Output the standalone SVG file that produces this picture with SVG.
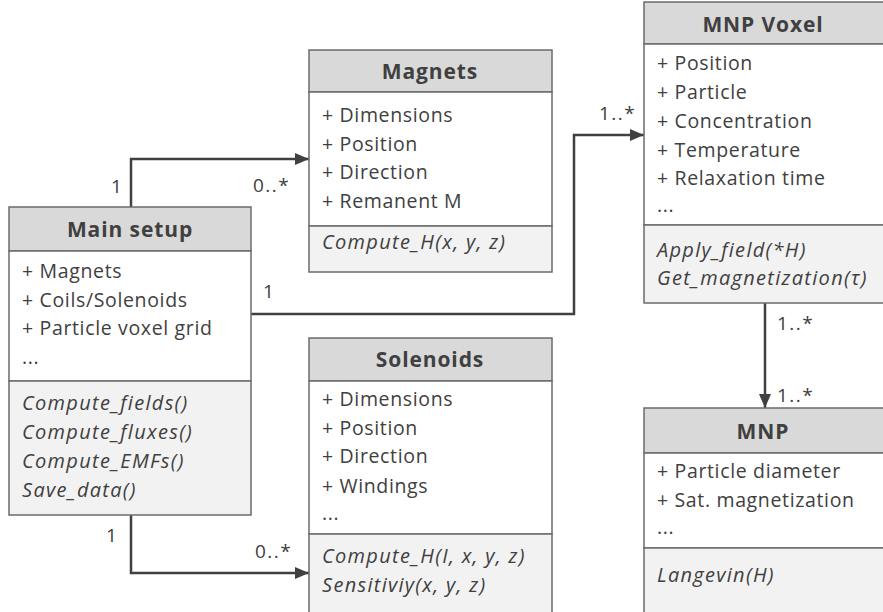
<svg xmlns="http://www.w3.org/2000/svg" width="883" height="612" viewBox="0 0 883 612">
<defs>
<marker id="arr" viewBox="0 0 14 12" refX="14" refY="6" markerWidth="14" markerHeight="12" markerUnits="userSpaceOnUse" orient="auto">
<path d="M0,0 L14,6 L0,12 Z" fill="#404040"/>
</marker>
<style>
.box{stroke:#6b6b6b;stroke-width:1.5}
.hd{fill:#d9d9d9}
.at{fill:#ffffff}
.me{fill:#f2f2f2}
text{font-family:"Open Sans","Liberation Sans",sans-serif;fill:#404040}
.t{font-size:21px;font-weight:bold;text-anchor:middle;letter-spacing:0.9px}
.a{font-size:19.5px;letter-spacing:0.65px}
.m{font-size:20px;font-style:italic;letter-spacing:1.3px}
.l{font-size:19px;letter-spacing:1.5px}
.c{fill:none;stroke:#404040;stroke-width:2.5}
</style>
</defs>
<rect width="883" height="612" fill="#ffffff"/>

<g id="connectors">
<polyline class="c" points="131,207 131,159 309,159" marker-end="url(#arr)"/>
<polyline class="c" points="251,314 574,314 574,135 644,135" marker-end="url(#arr)"/>
<polyline class="c" points="131,515 131,573 309,573" marker-end="url(#arr)"/>
<polyline class="c" points="765,303 765,408" marker-end="url(#arr)"/>
<text class="l" x="111" y="193">1</text>
<text class="l" x="253" y="192">0..*</text>
<text class="l" x="263" y="298">1</text>
<text class="l" x="599" y="120">1..*</text>
<text class="l" x="106" y="542">1</text>
<text class="l" x="255" y="558">0..*</text>
<text class="l" x="777" y="330">1..*</text>
<text class="l" x="777" y="402">1..*</text>
</g>

<g id="main_setup">
<rect class="box hd" x="9" y="207" width="242" height="44"/>
<rect class="box at" x="9" y="251" width="242" height="130"/>
<rect class="box me" x="9" y="381" width="242" height="134"/>
<text class="t" x="130" y="237">Main setup</text>
<text class="a" x="22" y="278">+ Magnets</text>
<text class="a" x="22" y="307">+ Coils/Solenoids</text>
<text class="a" x="22" y="335">+ Particle voxel grid</text>
<text class="a" x="22" y="364">...</text>
<text class="m" x="22" y="410">Compute_fields()</text>
<text class="m" x="22" y="439">Compute_fluxes()</text>
<text class="m" x="22" y="468">Compute_EMFs()</text>
<text class="m" x="22" y="497">Save_data()</text>
</g>

<g id="magnets">
<rect class="box hd" x="309" y="50" width="243" height="42"/>
<rect class="box at" x="309" y="92" width="243" height="134"/>
<rect class="box me" x="309" y="226" width="243" height="46"/>
<text class="t" x="430" y="79">Magnets</text>
<text class="a" x="322" y="122">+ Dimensions</text>
<text class="a" x="322" y="151">+ Position</text>
<text class="a" x="322" y="179">+ Direction</text>
<text class="a" x="322" y="208">+ Remanent M</text>
<text class="m" x="322" y="249">Compute_H(x, y, z)</text>
</g>

<g id="solenoids">
<rect class="box hd" x="309" y="338" width="243" height="43"/>
<rect class="box at" x="309" y="381" width="243" height="153"/>
<rect class="box me" x="309" y="534" width="243" height="82"/>
<text class="t" x="430" y="367">Solenoids</text>
<text class="a" x="322" y="406">+ Dimensions</text>
<text class="a" x="322" y="435">+ Position</text>
<text class="a" x="322" y="463">+ Direction</text>
<text class="a" x="322" y="493">+ Windings</text>
<text class="a" x="322" y="520">...</text>
<text class="m" x="322" y="563">Compute_H(I, x, y, z)</text>
<text class="m" x="322" y="592">Sensitiviy(x, y, z)</text>
</g>

<g id="mnp_voxel">
<rect class="box hd" x="644" y="2" width="240" height="42"/>
<rect class="box at" x="644" y="44" width="240" height="181"/>
<rect class="box me" x="644" y="225" width="240" height="78"/>
<text class="t" x="763" y="32">MNP Voxel</text>
<text class="a" x="657" y="70">+ Position</text>
<text class="a" x="657" y="99">+ Particle</text>
<text class="a" x="657" y="128">+ Concentration</text>
<text class="a" x="657" y="157">+ Temperature</text>
<text class="a" x="657" y="185">+ Relaxation time</text>
<text class="a" x="657" y="212">...</text>
<text class="m" x="657" y="257">Apply_field(*H)</text>
<text class="m" x="657" y="285">Get_magnetization(τ)</text>
</g>

<g id="mnp">
<rect class="box hd" x="644" y="408" width="240" height="45"/>
<rect class="box at" x="644" y="453" width="240" height="95"/>
<rect class="box me" x="644" y="548" width="240" height="68"/>
<text class="t" x="763" y="439">MNP</text>
<text class="a" x="657" y="478">+ Particle diameter</text>
<text class="a" x="657" y="507">+ Sat. magnetization</text>
<text class="a" x="657" y="534">...</text>
<text class="m" x="657" y="582">Langevin(H)</text>
</g>
</svg>
